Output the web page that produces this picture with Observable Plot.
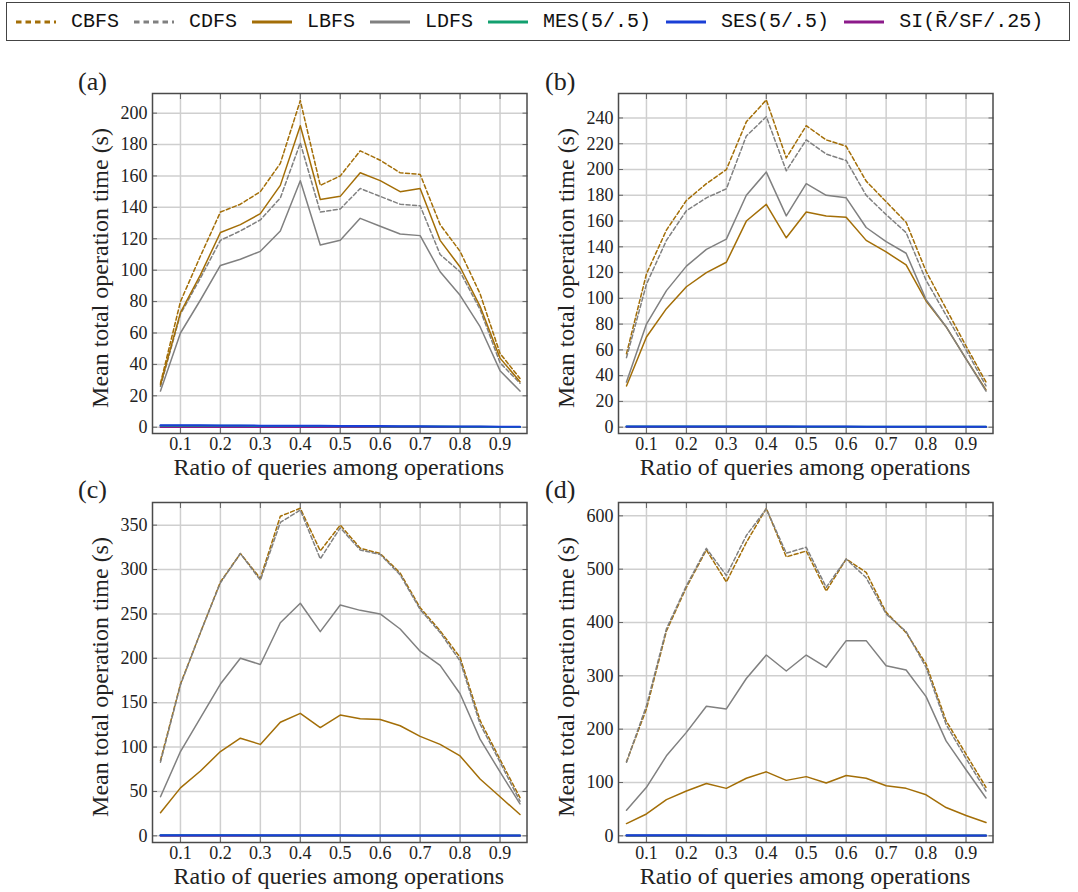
<!DOCTYPE html>
<html>
<head>
<meta charset="utf-8">
<script src="https://cdn.jsdelivr.net/npm/d3@7"></script>
<script src="https://cdn.jsdelivr.net/npm/@observablehq/plot@0.6"></script>
<style>
  html, body { margin: 0; padding: 0; background: #fff; }
  body { width: 1078px; height: 892px; position: relative; overflow: hidden; }
  #legend { position: absolute; left: 6px; top: 2px; width: 1064px; height: 39px;
    border: 1px solid #444; display: flex; align-items: center; padding-left: 9px; box-sizing: border-box;
    font-family: "Liberation Mono", monospace; font-size: 20px; color: #111; }
  .item { display: flex; align-items: center; margin-right: 15px; }
  .item svg { margin-right: 15px; }
  .panel { position: absolute; }
  .panel svg, .panel svg text { font-family: "Liberation Serif", serif !important; }
  .lbl { position: absolute; font-family: "Liberation Serif", serif; color: #222; white-space: nowrap; line-height: 1; }
</style>
</head>
<body>
<div id="legend"></div>
<div id="pa" class="panel" style="left:71.5px; top:62.7px"></div>
<div id="pb" class="panel" style="left:537.7px; top:62.7px"></div>
<div id="pc" class="panel" style="left:71.7px; top:471.7px"></div>
<div id="pd" class="panel" style="left:537.7px; top:471.7px"></div>
<script>
// ---------- data ----------
const ratios = [0.05, 0.1, 0.15, 0.2, 0.25, 0.3, 0.35, 0.4, 0.45, 0.5, 0.55, 0.6, 0.65, 0.7, 0.75, 0.8, 0.85, 0.9, 0.95];
const xTicks = [0.1, 0.2, 0.3, 0.4, 0.5, 0.6, 0.7, 0.8, 0.9];
const seriesNames = ["CBFS", "CDFS", "LBFS", "LDFS", "MES(5/.5)", "SES(5/.5)", "SI(R\u0304/SF/.25)"];
const seriesColors = ["#a36e07", "#808080", "#a36e07", "#808080", "#12a06f", "#1a3fd6", "#8c1a8a"];
const seriesDashed = [true, true, false, false, false, false, false];
const drawOrder = [0, 1, 2, 3, 6, 4, 5];

// panel (a)
const a_CBFS = [28, 80, 109, 137, 142, 150, 168, 208, 154, 160, 176, 170, 162, 161, 129, 112, 85, 47, 31];
const a_CDFS = [26, 72, 95, 119, 125, 132, 146, 181, 137, 139, 152, 147, 142, 141, 110, 99, 75, 41, 28];
const a_LBFS = [27, 73, 97, 124, 129, 136, 154, 192, 145, 147, 162, 157, 150, 152, 119, 102, 77, 44, 29];
const a_LDFS = [23, 60, 81, 103, 107, 112, 125, 157, 116, 119, 133, 128, 123, 122, 99, 84, 64, 36, 23];
const a_MES = [1.0, 1.0, 0.9, 0.9, 0.9, 0.8, 0.8, 0.7, 0.7, 0.6, 0.6, 0.5, 0.5, 0.4, 0.4, 0.3, 0.3, 0.2, 0.2];
const a_SES = [1.3, 1.2, 1.2, 1.1, 1.1, 1.0, 1.0, 0.9, 0.9, 0.8, 0.8, 0.7, 0.6, 0.6, 0.5, 0.5, 0.4, 0.3, 0.3];
const a_SI = [0.2, 0.2, 0.2, 0.2, 0.2, 0.2, 0.2, 0.2, 0.2, 0.2, 0.2, 0.2, 0.2, 0.1, 0.1, 0.1, 0.1, 0.1, 0.1];

// panel (b)
const b_CBFS = [57, 119, 153, 176, 189, 200, 237, 254, 209, 234, 223, 218, 191, 175, 159, 121, 92, 63, 35];
const b_CDFS = [54, 111, 145, 168, 178, 185, 226, 241, 199, 223, 212, 207, 180, 165, 151, 114, 87, 60, 32];
const b_LBFS = [32, 70, 92, 109, 120, 128, 160, 173, 147, 167, 164, 163, 145, 136, 126, 98, 78, 53, 29];
const b_LDFS = [35, 80, 106, 125, 138, 146, 180, 198, 164, 189, 180, 178, 155, 144, 135, 99, 78, 53, 28];
const b_MES = [0.5, 0.5, 0.5, 0.5, 0.5, 0.5, 0.5, 0.5, 0.5, 0.4, 0.4, 0.4, 0.4, 0.4, 0.4, 0.3, 0.3, 0.3, 0.3];
const b_SES = [0.6, 0.6, 0.6, 0.6, 0.6, 0.5, 0.5, 0.5, 0.5, 0.5, 0.5, 0.5, 0.4, 0.4, 0.4, 0.4, 0.3, 0.3, 0.3];
const b_SI = [0.2, 0.2, 0.2, 0.2, 0.2, 0.2, 0.2, 0.2, 0.2, 0.2, 0.2, 0.2, 0.2, 0.2, 0.1, 0.1, 0.1, 0.1, 0.1];

// panel (c)
const c_CBFS = [85, 171, 229, 286, 318, 290, 360, 369, 321, 350, 324, 318, 296, 257, 231, 201, 130, 86, 43];
const c_CDFS = [83, 170, 229, 285, 318, 288, 353, 367, 312, 347, 322, 317, 294, 255, 229, 197, 126, 83, 39];
const c_LBFS = [26, 54, 73, 95, 110, 103, 128, 138, 122, 136, 132, 131, 124, 112, 103, 90, 64, 44, 24];
const c_LDFS = [44, 95, 133, 171, 200, 193, 240, 262, 230, 260, 254, 250, 233, 208, 192, 160, 109, 72, 36];
const c_MES = [0.6, 0.6, 0.6, 0.6, 0.6, 0.5, 0.5, 0.5, 0.5, 0.5, 0.5, 0.5, 0.4, 0.4, 0.4, 0.4, 0.3, 0.3, 0.3];
const c_SES = [0.7, 0.7, 0.7, 0.7, 0.6, 0.6, 0.6, 0.6, 0.6, 0.6, 0.5, 0.5, 0.5, 0.5, 0.5, 0.4, 0.4, 0.4, 0.3];
const c_SI = [0.2, 0.2, 0.2, 0.2, 0.2, 0.2, 0.2, 0.2, 0.2, 0.2, 0.2, 0.2, 0.2, 0.2, 0.1, 0.1, 0.1, 0.1, 0.1];

// panel (d)
const d_CBFS = [139, 238, 384, 466, 536, 476, 550, 614, 523, 534, 459, 519, 494, 419, 381, 322, 216, 153, 91];
const d_CDFS = [138, 244, 388, 469, 539, 488, 563, 613, 530, 541, 466, 519, 484, 416, 383, 316, 209, 145, 84];
const d_LBFS = [23, 41, 68, 84, 98, 89, 108, 120, 104, 111, 99, 113, 108, 94, 89, 77, 53, 38, 25];
const d_LDFS = [48, 91, 150, 194, 243, 238, 295, 339, 309, 339, 316, 366, 366, 319, 311, 261, 178, 124, 71];
const d_MES = [0.8, 0.8, 0.8, 0.7, 0.7, 0.7, 0.7, 0.7, 0.6, 0.6, 0.6, 0.6, 0.6, 0.5, 0.5, 0.5, 0.4, 0.4, 0.4];
const d_SES = [0.9, 0.9, 0.9, 0.9, 0.8, 0.8, 0.8, 0.8, 0.7, 0.7, 0.7, 0.7, 0.6, 0.6, 0.6, 0.5, 0.5, 0.4, 0.4];
const d_SI = [0.3, 0.3, 0.3, 0.3, 0.3, 0.3, 0.2, 0.2, 0.2, 0.2, 0.2, 0.2, 0.2, 0.2, 0.2, 0.2, 0.1, 0.1, 0.1];

const yTicksA = [0, 20, 40, 60, 80, 100, 120, 140, 160, 180, 200];
const yTicksB = [0, 20, 40, 60, 80, 100, 120, 140, 160, 180, 200, 220, 240];
const yTicksC = [0, 50, 100, 150, 200, 250, 300, 350];
const yTicksD = [0, 100, 200, 300, 400, 500, 600];

const xLabel = "Ratio of queries among operations";
const yLabel = "Mean total operation time (s)";

// ---------- legend ----------
const legend = document.getElementById("legend");
seriesNames.forEach((name, i) => {
  const item = document.createElement("div");
  item.className = "item";
  const dash = seriesDashed[i] ? 'stroke-dasharray="5.5,4"' : "";
  item.innerHTML = `<svg width="40" height="10"><line x1="0" y1="5" x2="40" y2="5" stroke="${seriesColors[i]}" stroke-width="3" ${dash}/></svg><span>${name}</span>`;
  legend.appendChild(item);
});

// ---------- html labels ----------
function addLabel(text, cx, cy, size, rotate, anchorLeft) {
  const d = document.createElement("div");
  d.className = "lbl";
  d.textContent = text;
  d.style.fontSize = size + "px";
  d.style.left = cx + "px";
  d.style.top = cy + "px";
  d.style.transform = anchorLeft ? "translate(0,-50%)" : `translate(-50%,-50%)${rotate ? " rotate(-90deg)" : ""}`;
  document.body.appendChild(d);
}

// ---------- panels ----------
function panel(el, series, yDomain, yTicks) {
  const frameStroke = "#4a4a4a";
  const tickStroke = "#666";
  const lineMarks = drawOrder.map(i => Plot.line(ratios.map((x, j) => ({x, y: series[i][j]})), {
    x: "x", y: "y",
    stroke: seriesColors[i],
    strokeWidth: i >= 4 ? 2 : 1.5,
    strokeDasharray: seriesDashed[i] ? "4,2.5" : null
  }));
  const fig = Plot.plot({
    width: 465, height: 425,
    marginLeft: 80, marginRight: 10.5, marginTop: 30, marginBottom: 55,
    x: {domain: [0.03, 0.9675], ticks: xTicks},
    y: {domain: yDomain, ticks: yTicks},
    style: {fontFamily: "Liberation Serif, serif", fontSize: "17px", background: "transparent", color: "#222", overflow: "visible"},
    marks: [
      Plot.gridX(xTicks, {stroke: "#cfcfcf", strokeOpacity: 1, strokeWidth: 1.5}),
      Plot.gridY(yTicks, {stroke: "#cfcfcf", strokeOpacity: 1, strokeWidth: 1.5}),
      ...lineMarks,
      Plot.axisX(xTicks, {anchor: "bottom", tickSize: 5, dy: -5, fill: "none", label: null, stroke: tickStroke}),
      Plot.axisX(xTicks, {anchor: "top", tickSize: 5, dy: 5, fill: "none", label: null, stroke: tickStroke}),
      Plot.axisY(yTicks, {anchor: "left", tickSize: 5, dx: 5, fill: "none", label: null, stroke: tickStroke}),
      Plot.axisY(yTicks, {anchor: "right", tickSize: 5, dx: -5, fill: "none", label: null, stroke: tickStroke}),
      Plot.axisX(xTicks, {anchor: "bottom", tickSize: 0, tickPadding: 4, tickFormat: d => d.toFixed(1), label: null, fontSize: 18}),
      Plot.axisY(yTicks, {anchor: "left", tickSize: 0, tickPadding: 5, tickFormat: d => String(d), label: null, fontSize: 18}),
      Plot.frame({stroke: frameStroke, strokeWidth: 1.5})
    ]
  });
  document.getElementById(el).appendChild(fig);
}

panel("pa", [a_CBFS, a_CDFS, a_LBFS, a_LDFS, a_MES, a_SES, a_SI], [-4, 212.5], yTicksA);
panel("pb", [b_CBFS, b_CDFS, b_LBFS, b_LDFS, b_MES, b_SES, b_SI], [-4.9, 259], yTicksB);
panel("pc", [c_CBFS, c_CDFS, c_LBFS, c_LDFS, c_MES, c_SES, c_SI], [-7.5, 375.5], yTicksC);
panel("pd", [d_CBFS, d_CDFS, d_LBFS, d_LDFS, d_MES, d_SES, d_SI], [-12.5, 625], yTicksD);

// axis titles and panel letters
const panelLetters = ["(a)", "(b)", "(c)", "(d)"];
const frameCenters = [[338.8, 262.8], [805, 262.8], [338.8, 671.7], [805, 671.7]];
const letterPos = [[78, 81.7], [545, 81.7], [78, 490], [545, 490]];
frameCenters.forEach(([cx, cy], i) => {
  addLabel(xLabel, cx, cy + 170 + 34, 24, false);
  addLabel(yLabel, cx - 187.3 - 51.5, cy + 5, 24, true);
  addLabel(panelLetters[i], letterPos[i][0], letterPos[i][1], 26, false, true);
});
</script>
</body>
</html>
